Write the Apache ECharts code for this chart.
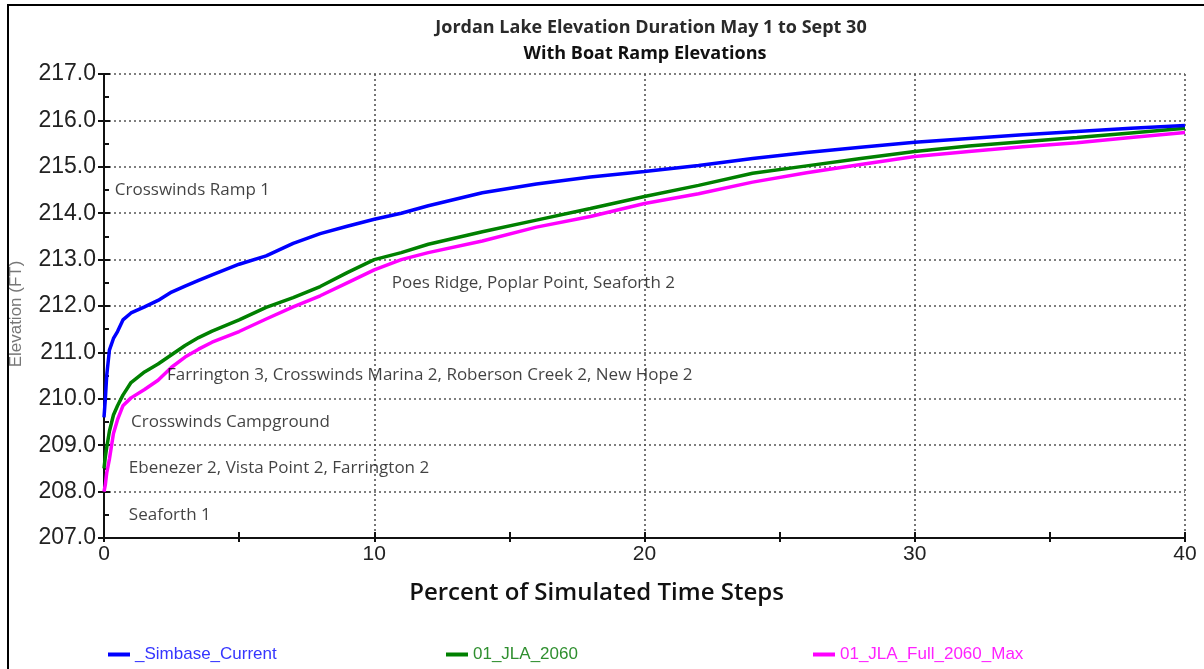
<!DOCTYPE html>
<html>
<head>
<meta charset="utf-8">
<script src="https://cdn.jsdelivr.net/npm/echarts@6/dist/echarts.min.js"></script>
<style>html,body{margin:0;padding:0;background:#fff;}#c{width:1204px;height:669px;}</style>
</head>
<body>
<div id="c"></div>
<script>
// Percent of simulated time steps (x)
const percent = [0, 0.05, 0.1, 0.2, 0.35, 0.5, 0.7, 1.0, 1.5, 2, 2.5, 3, 3.5, 4, 5, 6, 7, 8, 9, 10, 11, 12, 14, 16, 18, 20, 22, 24, 26, 28, 30, 32, 34, 36, 38, 40];
// Elevation (FT)
const simbaseCurrent = [209.6, 210.0, 210.5, 211.05, 211.3, 211.45, 211.7, 211.85, 211.98, 212.12, 212.3, 212.43, 212.55, 212.67, 212.9, 213.08, 213.35, 213.56, 213.72, 213.87, 214.0, 214.16, 214.44, 214.63, 214.78, 214.9, 215.03, 215.18, 215.31, 215.42, 215.53, 215.61, 215.69, 215.76, 215.83, 215.89];
const jla2060 = [208.5, 208.75, 208.95, 209.3, 209.65, 209.85, 210.08, 210.35, 210.58, 210.75, 210.95, 211.15, 211.32, 211.46, 211.7, 211.97, 212.18, 212.42, 212.72, 213.0, 213.15, 213.33, 213.6, 213.85, 214.1, 214.36, 214.6, 214.86, 215.02, 215.18, 215.33, 215.45, 215.54, 215.63, 215.73, 215.83];
const jlaFull2060Max = [208.0, 208.15, 208.4, 208.7, 209.25, 209.55, 209.85, 210.02, 210.2, 210.4, 210.68, 210.9, 211.07, 211.22, 211.45, 211.72, 211.98, 212.22, 212.5, 212.78, 213.0, 213.15, 213.4, 213.7, 213.93, 214.21, 214.42, 214.67, 214.87, 215.05, 215.22, 215.33, 215.43, 215.52, 215.63, 215.74];

const seriesNames = ['_Simbase_Current', '01_JLA_2060', '01_JLA_Full_2060_Max'];
const seriesColors = ['#0000ff', '#008000', '#ff00ff'];
const legendTextColors = ['#3535ff', '#2f8f2f', '#ff22ff'];

// Boat ramp annotations
const rampNames = ['Crosswinds Ramp 1', 'Poes Ridge, Poplar Point, Seaforth 2', 'Farrington 3, Crosswinds Marina 2, Roberson Creek 2, New Hope 2', 'Crosswinds Campground', 'Ebenezer 2, Vista Point 2, Farrington 2', 'Seaforth 1'];
const rampX = [0.4, 10.65, 2.33, 1.0, 0.92, 0.92];
const rampY = [214.5, 212.5, 210.5, 209.5, 208.5, 207.5];

const yTicks = [207, 208, 209, 210, 211, 212, 213, 214, 215, 216, 217];
const xTicks = [0, 10, 20, 30, 40];

const zip = (xs, ys) => xs.map((x, i) => [x, ys[i]]);
const gridLine = { show: true, lineStyle: { color: '#555', width: 1.6, type: [2, 3] } };

const chart = echarts.init(document.getElementById('c'));
chart.setOption({
  backgroundColor: '#fff',
  animation: false,
  title: [
    { text: 'Jordan Lake Elevation Duration May 1 to Sept 30', left: 646, top: 14, textAlign: 'center',
      textStyle: { fontFamily: 'Open Sans', fontSize: 18, fontWeight: 'bold', color: '#2a2a2a' } },
    { text: 'With Boat Ramp Elevations', left: 640, top: 40, textAlign: 'center',
      textStyle: { fontFamily: 'Open Sans', fontSize: 18, fontWeight: 'bold', color: '#111' } }
  ],
  graphic: [
    { type: 'rect', z: -10, shape: { x: 8, y: 5, width: 1400, height: 900 }, style: { fill: 'none', stroke: '#000', lineWidth: 2 } }
  ],
  legend: seriesNames.map((n, i) => ({
    data: [n], left: [103, 441, 808][i], top: 641, icon: 'rect', itemWidth: 22, itemHeight: 4, itemGap: 10,
    textStyle: { fontFamily: 'Liberation Sans', fontSize: 17, color: legendTextColors[i] }
  })),
  grid: { left: 104, right: 19, top: 74, bottom: 131, containLabel: false },
  xAxis: [
    { type: 'value', min: xTicks[0], max: xTicks[xTicks.length - 1], interval: 10,
      name: 'Percent of Simulated Time Steps', nameLocation: 'middle', nameGap: 43,
      nameTextStyle: { fontFamily: 'Open Sans', fontSize: 24, fontWeight: 600, color: '#111', padding: [0, 96, 0, 0] },
      axisLine: { show: true, onZero: false, lineStyle: { color: '#111', width: 2 } },
      axisTick: { show: true, inside: true, length: 6, lineStyle: { color: '#111', width: 2 } },
      minorTick: { show: true, splitNumber: 2, length: 6, lineStyle: { color: '#111', width: 2 } },
      axisLabel: { margin: 6, fontFamily: 'Liberation Sans', fontSize: 21, color: '#222', showMaxLabel: true },
      splitLine: gridLine },
    { type: 'value', min: xTicks[0], max: xTicks[xTicks.length - 1], interval: 5, position: 'bottom',
      axisLine: { show: false }, axisLabel: { show: false }, splitLine: { show: false },
      axisTick: { show: true, inside: false, length: 4, lineStyle: { color: '#111', width: 2 } } }
  ],
  yAxis: [
    { type: 'value', min: yTicks[0], max: yTicks[yTicks.length - 1], interval: 1,
      name: 'Elevation (FT)', nameLocation: 'middle', nameGap: 79,
      nameTextStyle: { fontFamily: 'Liberation Sans', fontSize: 17, color: '#777', padding: [0, 16, 0, 0] },
      axisLine: { show: true, onZero: false, lineStyle: { color: '#111', width: 2 } },
      axisTick: { show: true, inside: true, length: 6, lineStyle: { color: '#111', width: 2 } },
      minorTick: { show: true, splitNumber: 2, length: 5, lineStyle: { color: '#111', width: 2 } },
      axisLabel: { margin: 8, fontFamily: 'Liberation Sans', fontSize: 23, color: '#222', formatter: v => v.toFixed(1) },
      splitLine: gridLine },
    { type: 'value', min: yTicks[0], max: yTicks[yTicks.length - 1], interval: 1, position: 'left',
      axisLine: { show: false }, axisLabel: { show: false }, splitLine: { show: false },
      axisTick: { show: true, inside: false, length: 6, lineStyle: { color: '#111', width: 2 } } }
  ],
  series: [
    { name: seriesNames[2], type: 'line', data: zip(percent, jlaFull2060Max), showSymbol: false, symbol: 'none',
      lineStyle: { color: seriesColors[2], width: 3.5 }, itemStyle: { color: seriesColors[2] }, z: 3 },
    { name: seriesNames[1], type: 'line', data: zip(percent, jla2060), showSymbol: false, symbol: 'none',
      lineStyle: { color: seriesColors[1], width: 3.5 }, itemStyle: { color: seriesColors[1] }, z: 4 },
    { name: seriesNames[0], type: 'line', data: zip(percent, simbaseCurrent), showSymbol: false, symbol: 'none',
      lineStyle: { color: seriesColors[0], width: 3.5 }, itemStyle: { color: seriesColors[0] }, z: 5 },
    { name: 'ramps', type: 'scatter', symbolSize: 0, silent: true, z: 6,
      data: rampNames.map((n, i) => ({ name: n, value: [rampX[i], rampY[i]] })),
      label: { show: true, position: 'right', distance: 0, formatter: p => p.name,
        fontFamily: 'Open Sans', fontSize: 17, color: '#111' } }
  ]
});
</script>
</body>
</html>
